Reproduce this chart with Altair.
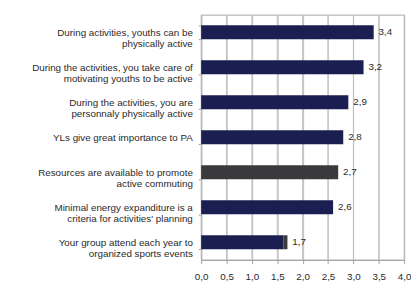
import altair as alt
import pandas as pd

categories = [
    "During activities, youths can be\nphysically active",
    "During the activities, you take care of\nmotivating youths to be active",
    "During the activities, you are\npersonnaly physically active",
    "YLs give great importance to PA",
    "Resources are available to promote\nactive commuting",
    "Minimal energy expanditure is a\ncriteria for activities' planning",
    "Your group attend each year to\norganized sports events",
]
totals = [3.4, 3.2, 2.9, 2.8, 2.7, 2.6, 1.7]
navy_part = [3.4, 3.2, 2.9, 2.8, 0.0, 2.6, 1.62]
gray_part = [0.0, 0.0, 0.0, 0.0, 2.7, 0.0, 0.08]
x_ticks = [0, 0.5, 1.0, 1.5, 2.0, 2.5, 3.0, 3.5, 4.0]

rows = []
for i, c in enumerate(categories):
    rows.append({"cat": c, "seg": "a", "v": navy_part[i], "order": 0})
    rows.append({"cat": c, "seg": "b", "v": gray_part[i], "order": 1})
bars_df = pd.DataFrame(rows)
text_df = pd.DataFrame({
    "cat": categories,
    "total": totals,
    "lbl": [f"{t:.1f}".replace(".", ",") for t in totals],
})
grid_df = pd.DataFrame({"t": x_ticks})

font = "Liberation Sans"

y_axis = alt.Axis(
    labelExpr="isString(datum.value) ? split(datum.value, '\\n') : ''",
    labelAlign="right",
    labelFont=font,
    labelFontSize=10,
    labelColor="#2a2a2a",
    labelLineHeight=12,
    labelPadding=6,
    tickSize=3,
    tickBand="extent",
    tickColor="#a0a0a0",
    domainColor="#a0a0a0",
    labelLimit=300,
    grid=False,
)
y_scale = alt.Scale(paddingInner=0.6, paddingOuter=0.3)

x_axis = alt.Axis(
    values=x_ticks,
    labelExpr="replace(format(datum.value, '.1f'), '.', ',')",
    labelFont=font,
    labelFontSize=10,
    labelColor="#2a2a2a",
    labelOverlap=False,
    tickSize=4,
    labelPadding=8,
    tickColor="#a0a0a0",
    domainColor="#a0a0a0",
    grid=True,
    gridColor="#bcbcbc",
    labelFlush=False,
)
x_scale = alt.Scale(domain=[0, 4], nice=False)

# grid drawn as thin filled rects (1 px wide) at each tick value
grid = (
    alt.Chart(grid_df)
    .transform_calculate(t0="datum.t - 0.01", t1="datum.t + 0.01")
    .mark_rect(color="#c0c0c0")
    .encode(
        x=alt.X("t0:Q", title=None, scale=x_scale, axis=x_axis),
        x2="t1:Q",
        y=alt.value(0),
        y2=alt.value(250),
    )
)

bars = alt.Chart(bars_df).mark_bar().encode(
    y=alt.Y("cat:N", sort=categories, title=None, scale=y_scale, axis=y_axis),
    x=alt.X("v:Q", stack="zero", title=None, scale=x_scale, axis=x_axis),
    color=alt.Color(
        "seg:N",
        scale=alt.Scale(domain=["a", "b"], range=["#1b1e50", "#3a3a3c"]),
        legend=None,
    ),
    order=alt.Order("order:Q"),
)

labels = alt.Chart(text_df).mark_text(
    align="left", dx=5, font=font, fontSize=10, color="#2a2a2a"
).encode(
    y=alt.Y("cat:N", sort=categories, title=None, scale=y_scale, axis=y_axis),
    x=alt.X("total:Q", title=None, scale=x_scale, axis=x_axis),
    text="lbl:N",
)

chart = (
    alt.layer(grid, bars, labels)
    .properties(
        width=207,
        height=250,
        autosize=alt.AutoSizeParams(type="none"),
        padding={"left": 197, "top": 4, "right": 7, "bottom": 26},
        background="white",
    )
    .configure_view(stroke="#a8a8a8", strokeWidth=1)
)

chart.save("out.html", embed_options={"renderer": "svg", "actions": False})
